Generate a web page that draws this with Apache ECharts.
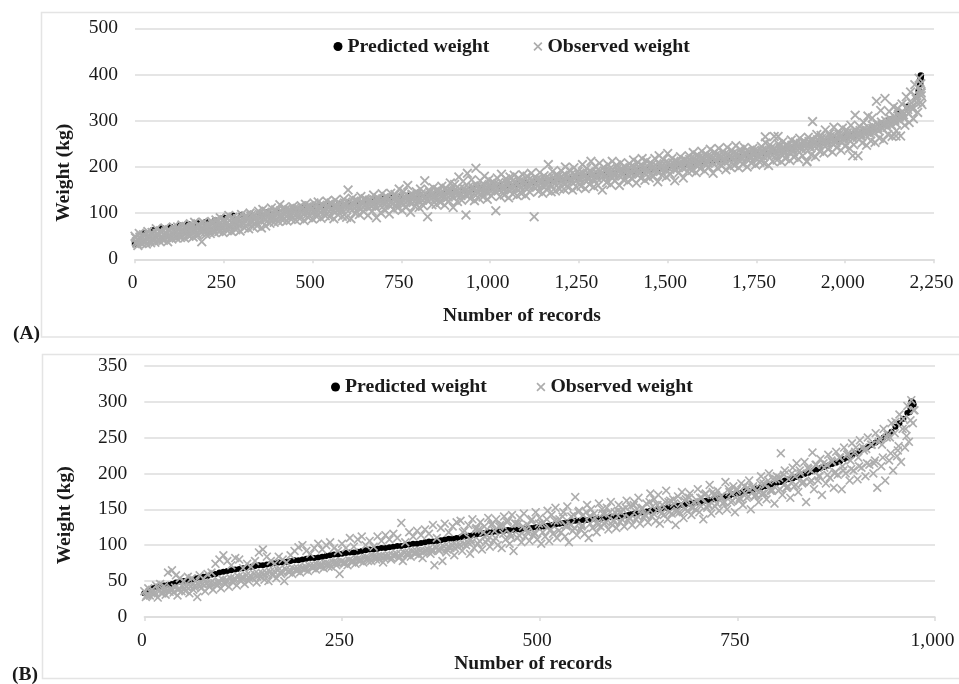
<!DOCTYPE html>
<html><head><meta charset="utf-8">
<style>html,body{margin:0;padding:0;background:#fff}#c{width:959px;height:684px}</style>
<script src="https://cdn.jsdelivr.net/npm/echarts@6/dist/echarts.min.js"></script>
</head><body><div id="c"></div>
<script>
const seriesNames = ['Predicted weight', 'Observed weight'];
const xTitle = 'Number of records';
const yTitle = 'Weight (kg)';

// Panel A: predicted weight, one reading every 25 records
const predA = [33,56,63,67,70,73,76,78,81,84,90,94,96,98,100,102,104,107,109,111,113,115,117,119,121,123,125,127,130,133,135,137,139,141,143,145,147,149,152,154,156,158,160,162,164,166,168,170,172,174,176,179,181,183,186,188,190,192,195,197,199,202,205,207,210,213,216,219,222,224,227,230,233,236,240,244,248,252,256,260,265,270,276,284,293,303,315,330,352];
const predATail = [[2207,365],[2211,380],[2212,390],[2213,398],[2212,394]];
// Panel A: observed weight band, one reading every 12 records
const obsAUpper = [50,56,53,60,58,66,62,68,64,70, 70,74,71,77,80,75,80,77,82,85, 90,86,95,91,88,97,94,100,96,104, 108,103,111,107,118,112,106,114,110,116, 119,116,122,124,118,126,122,128,121,130, 150,132,128,136,131,128,139,133,142,136, 143,140,152,146,160,141,146,152,170,150, 155,151,158,154,165,162,178,169,186,172, 197,170,180,172,168,176,184,174,178,182, 176,183,180,186,178,188,181,205,190,184, 192,200,193,198,190,205,197,212,201,208, 199,205,212,204,209,200,207,215,210,218, 213,209,218,224,216,229,218,212,222,216, 224,231,226,234,228,238,232,240,234,242, 236,246,238,242,234,240,236,244,252,248, 266,250,254,248,258,254,262,256,264,298, 270,268,280,272,286,276,284,280,290,312, 288,296,310,306,342,322,348,320,330,326, 336,352,362,378,392];
const obsAInnerHigh = [46,48,50,52,54,56,58,59,61,62, 64,66,66,69,70,71,72,75,77,79, 80,82,84,85,88,89,91,94,95,97, 99,100,102,104,105,106,108,108,110,111, 112,113,114,115,117,117,119,119,120,122, 124,124,126,126,128,128,129,131,131,133, 133,135,135,137,137,139,140,142,142,145, 145,147,147,149,149,152,152,154,155,157, 157,159,159,162,162,164,164,166,166,168, 168,170,170,172,172,174,174,176,177,179, 179,182,182,184,184,186,187,189,189,191, 191,194,194,196,196,198,198,200,200,202, 202,204,204,206,207,209,209,212,212,215, 216,219,219,222,222,224,224,226,226,228, 228,230,230,232,232,234,234,236,237,240, 240,243,243,246,247,250,251,254,255,258, 259,262,263,266,267,270,271,274,275,278, 279,283,285,289,292,297,300,305,309,314, 319,330,339,353,368];
const obsAMid = [38,44,41,47,46,52,49,55,52,58, 57,60,59,63,62,65,64,69,70,73, 72,76,74,79,81,80,85,84,89,90, 90,94,93,98,97,101,99,103,102,105, 104,107,106,110,108,112,110,113,112,116, 115,118,117,121,119,122,121,125,123,127, 125,128,127,131,129,133,132,136,134,138, 137,140,139,143,141,145,144,148,147,151, 149,152,151,155,154,157,156,160,158,162, 160,163,162,166,164,167,166,170,169,173, 171,175,174,178,176,180,179,183,181,185, 183,187,186,190,188,192,190,194,192,196, 194,197,196,200,199,203,201,206,204,209, 208,212,211,216,214,218,216,220,218,222, 220,223,222,226,224,228,226,230,229,234, 232,236,235,240,239,244,243,248,247,252, 251,255,255,260,259,264,263,268,267,272, 271,276,277,283,284,291,292,299,301,308, 313,324,331,347,362];
const obsAInnerLow = [34,36,38,40,41,44,44,47,47,50, 51,53,53,56,56,58,59,62,63,66, 66,69,69,72,73,76,77,80,81,84, 85,87,88,90,91,93,93,95,96,98, 98,100,100,102,102,104,104,106,106,109, 109,111,111,113,113,115,115,117,117,119, 119,121,121,123,123,125,126,128,128,131, 131,133,133,135,135,138,138,140,141,143, 143,145,145,148,148,150,150,152,152,154, 154,156,156,158,158,160,160,162,163,165, 165,168,168,170,170,172,173,175,175,177, 177,180,180,182,182,184,184,186,186,188, 188,190,190,192,193,195,195,198,198,201, 202,205,205,208,208,210,210,212,212,214, 214,216,216,218,218,220,220,222,223,226, 226,229,229,232,233,236,237,240,241,244, 245,248,249,252,253,256,257,260,261,264, 265,269,271,275,278,283,286,291,295,300, 305,316,325,339,354];
const obsALower = [30,34,33,36,37,40,41,38,44,46, 47,46,50,48,52,38,54,56,58,60, 58,62,60,64,61,68,66,70,72,68, 72,78,80,82,84,83,86,85,88,84, 90,87,92,89,94,92,88,96,93,91, 88,100,97,103,95,104,90,101,106,98, 108,111,106,113,102,115,112,116,92,118, 119,123,117,126,112,125,128,96,131,127, 132,135,130,137,105,136,139,133,141,138, 142,138,145,92,147,143,150,146,148,152, 152,155,150,156,158,153,162,157,160,150, 166,162,170,160,172,168,174,165,176,171, 176,180,168,182,178,184,170,188,176,190, 192,188,196,191,199,186,198,202,194,200, 203,198,206,200,208,204,210,207,203,212, 215,211,218,214,221,217,224,212,226,222, 234,230,238,232,242,236,245,240,248,224, 252,247,256,253,262,258,270,266,278,267, 290,296,304,318,335];
const obsAExtra = [[2212,340],[2214,360],[2213,380],[2143,267],[2021,224],[1892,211],[1775,265],[1811,266]];

// Panel B: predicted weight, one reading every 5 records
const predB = [33,37,40,42,43,44,45,46,48,49, 50,51,52,54,55,56,57,59,60,62, 63,64,65,66,67,68,69,70,71,72, 72,73,74,75,76,76,77,78,79,79, 80,81,82,82,83,84,85,86,87,87, 88,89,90,90,91,92,93,94,94,95, 96,96,97,98,99,99,100,101,102,102, 103,104,105,105,106,107,108,109,109,110, 111,112,113,114,115,116,117,118,118,119, 120,120,121,121,122,122,123,124,124,125, 125,126,127,128,129,130,131,132,133,134, 134,135,135,136,137,137,138,138,139,139, 140,141,142,143,144,145,146,147,148,149, 150,151,152,153,154,155,156,157,158,159, 160,161,162,163,164,165,167,168,169,171, 172,173,175,176,177,179,180,182,183,185, 187,188,190,192,193,195,197,199,201,203, 205,207,209,211,213,215,217,220,222,225, 228,231,234,237,240,243,246,250,254,258, 265,270,276,284,300];
const predBTail = [[968,285],[969,290],[970,294],[971,297],[972,299],[973,296]];
// Panel B: observed weight band, one reading every 5 records
const obsBUpper = [36,40,38,44,46,43,62,65,58,54, 50,56,54,50,58,53,60,62,74,80, 86,78,72,82,80,68,74,70,78,90, 94,84,78,74,84,80,76,86,92,97, 100,92,88,96,102,94,100,104,96,92, 102,96,110,98,108,112,100,106,98,112, 106,114,108,116,110,131,104,118,112,120, 114,122,116,128,110,124,130,118,126,132, 134,120,128,136,124,132,126,138,130,136, 128,140,134,142,130,138,144,128,136,146, 138,132,148,142,152,136,146,154,140,167, 148,142,156,150,138,158,144,152,160,146, 156,150,162,154,160,166,152,158,172,164, 170,156,176,162,158,168,174,164,172,160, 178,166,172,184,170,176,168,188,174,182, 178,186,172,190,182,176,196,184,200,192, 196,228,204,192,208,214,200,216,206,229, 212,220,208,226,216,230,222,236,228,242, 236,246,232,250,240,256,248,262,254,270, 272,282,276,294,302];
const obsBLower = [28,30,32,27,33,31,35,34,30,36, 36,33,38,28,40,36,42,38,44,40, 46,42,48,44,50,46,50,54,48,56, 52,50,58,54,62,50,64,60,66,62, 68,64,70,66,72,68,74,70,76,60, 76,72,78,74,80,76,82,78,84,80, 76,84,80,86,82,78,88,84,90,86, 82,92,88,72,94,78,90,96,86,98, 92,100,88,96,102,94,104,98,106,100, 96,108,102,92,110,104,112,106,114,108, 102,112,106,116,110,118,112,104,120,114, 122,116,110,124,118,126,130,122,128,124, 132,126,134,128,136,130,138,132,140,134, 130,142,136,144,128,146,138,148,142,150, 146,136,152,144,154,148,158,150,160,146, 162,156,166,150,168,160,172,164,176,158, 176,170,180,166,182,174,186,160,188,178, 190,170,186,194,180,198,178,200,190,204, 192,208,196,212,200,180,210,190,218,204, 224,216,236,244,270];
const obsBInner = [30,33,34,36,38,37,40,41,40,42, 42,43,44,45,46,47,48,47,50,52, 52,54,54,56,56,58,58,60,60,61, 62,63,64,65,64,66,66,67,68,68, 70,71,72,72,73,74,74,76,76,77, 76,79,78,80,80,82,82,84,84,85, 85,86,86,88,88,89,90,91,92,92, 92,94,94,96,96,98,98,100,100,101, 102,104,104,122,106,118,108,128,110,126, 116,132,112,130,114,126,118,134,116,130, 118,136,122,134,120,140,126,128,124,146, 128,146,130,144,128,150,132,146,134,148, 136,152,138,156,140,150,142,160,144,156, 144,160,146,164,148,158,150,166,152,162, 154,170,156,174,158,168,160,178,162,176, 164,182,168,180,170,186,172,190,176,192, 178,198,182,200,184,204,188,208,190,212, 196,214,198,218,202,222,204,226,206,230, 210,236,214,240,218,244,222,250,228,256, 238,262,252,274,288];
// Panel B: observed weight, one reading every 10 records
const obsBMid = [30,34,33,38,38,42,42,46,46,48, 50,52,54,54,56,58,60,60,62,64, 66,68,70,70,72,74,76,78,78,80, 82,82,84,86,88,90,92,92,94,96, 118,108,122,114,120,128,116,130,122,118, 130,120,134,128,142,126,140,132,144,134, 146,138,150,142,154,148,160,146,162,152, 166,156,170,160,172,166,180,170,186,178, 194,180,196,188,204,196,212,200,210,218, 222,234,214,240,250,232,262,288];

const fontFamily = '"Liberation Serif","Times New Roman",serif';
const GRID_LINE = '#dcdcdc', GREY = '#adadad', TEXT = '#1a1a1a';
const X_ICON = 'path://M1.3,0 L5,3.7 L8.7,0 L10,1.3 L6.3,5 L10,8.7 L8.7,10 L5,6.3 L1.3,10 L0,8.7 L3.7,5 L0,1.3 Z';

const byStep = (values, step, offset) => values.map((v, i) => [i * step + offset, v]);

function xAxis(gridIndex, max, nameGap, namePad) {
  return {
    type: 'value', gridIndex, min: 0, max, interval: 250,
    name: xTitle, nameLocation: 'middle', nameGap,
    nameTextStyle: { fontFamily, fontSize: 19.5, fontWeight: 'bold', color: TEXT, padding: [0, namePad, 0, 0] },
    axisLine: { show: true, lineStyle: { color: GRID_LINE, width: 1.5 } },
    axisTick: { show: true, length: 4, lineStyle: { color: GRID_LINE, width: 1.5 } },
    splitLine: { show: false },
    axisLabel: { margin: 14, fontFamily, fontSize: 19.5, color: TEXT, padding: [0, 5, 0, 0], hideOverlap: false,
      showMinLabel: true, showMaxLabel: true,
      formatter: v => v.toLocaleString('en-US') }
  };
}
function yAxis(gridIndex, max, interval, nameGap, namePad) {
  return {
    type: 'value', gridIndex, min: 0, max, interval,
    name: yTitle, nameLocation: 'middle', nameGap,
    nameTextStyle: { fontFamily, fontSize: 19.5, fontWeight: 'bold', color: TEXT, padding: [0, namePad, 0, 0] },
    axisLine: { show: false }, axisTick: { show: false },
    splitLine: { show: true, lineStyle: { color: GRID_LINE, width: 1.5 } },
    axisLabel: { margin: 17, fontFamily, fontSize: 19.5, color: TEXT, showMinLabel: true, showMaxLabel: true }
  };
}
function legend(left, top, itemGap) {
  return {
    left, top, itemWidth: 9, itemHeight: 9, itemGap, selectedMode: false,
    textStyle: { fontFamily, fontSize: 19.8, fontWeight: 'bold', color: TEXT },
    data: [{ name: seriesNames[0], icon: 'circle', itemStyle: { color: '#000' } },
           { name: seriesNames[1], icon: X_ICON, itemStyle: { color: GREY } }]
  };
}
function predicted(i, data, size) {
  return { name: seriesNames[0], type: 'scatter', xAxisIndex: i, yAxisIndex: i, data, symbol: 'circle', symbolSize: size,
    itemStyle: { color: '#000', opacity: 1 }, silent: true, z: 2 };
}
function observed(i, data, size) {
  return { name: seriesNames[1], type: 'scatter', xAxisIndex: i, yAxisIndex: i, data, symbol: X_ICON, symbolSize: size,
    itemStyle: { color: GREY, opacity: 1 }, silent: true, z: 3 };
}
function frame(y, x, h) {
  return { type: 'rect', silent: true, shape: { x, y, width: 960, height: h },
    style: { fill: 'none', stroke: '#e4e4e4', lineWidth: 1.5 }, z: 0 };
}
function tag(text, x, y) {
  return { type: 'text', silent: true, x, y,
    style: { text, fontFamily, fontSize: 19.5, fontWeight: 'bold', fill: TEXT, textVerticalAlign: 'middle' }, z: 5 };
}

const chart = echarts.init(document.getElementById('c'), null, { renderer: 'canvas' });
chart.setOption({
  animation: false, backgroundColor: '#fff',
  grid: [
    { left: 135, top: 28.3, width: 799, height: 231 },
    { left: 144.3, top: 365.7, width: 790.7, height: 251.3 }
  ],
  xAxis: [xAxis(0, 2250, 46.5, 25), xAxis(1, 1000, 36.5, 13)],
  yAxis: [yAxis(0, 500, 100, 61, 58), yAxis(1, 350, 50, 69, 48)],
  legend: [legend(328.5, 31.5, 44), legend(326, 372, 49.5)],
  graphic: [frame(12.5, 41.5, 324.5), frame(354.5, 42.5, 324), tag('(A)', 13, 334), tag('(B)', 12, 675)],
  series: [
    predicted(0, byStep(predA, 25, 0).concat(predATail), 6.5),
    observed(0, byStep(obsAUpper, 12, 0).concat(byStep(obsAInnerHigh, 12, 2), byStep(obsAMid, 12, 4), byStep(obsAInnerLow, 12, 6), byStep(obsALower, 12, 8), obsAExtra), 10),
    predicted(1, byStep(predB, 5, 0).concat(predBTail), 6),
    observed(1, byStep(obsBUpper, 5, 0).concat(byStep(obsBLower, 5, 2), byStep(obsBInner, 5, 4), byStep(obsBMid, 10, 3)), 9)
  ]
});
</script></body></html>
